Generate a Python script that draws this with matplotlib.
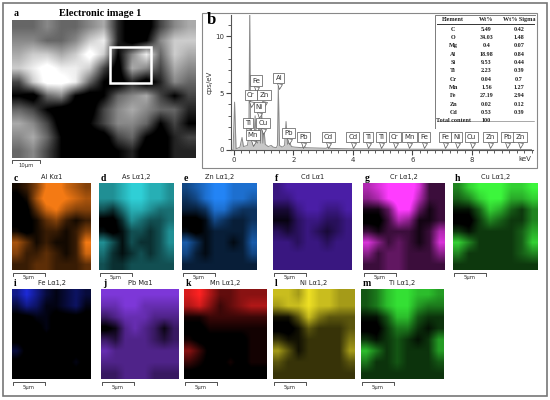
import numpy as np
import matplotlib
matplotlib.use('Agg')
import matplotlib.pyplot as plt
from matplotlib.patches import Rectangle
from matplotlib.colors import LinearSegmentedColormap

W, H = 550, 400

# EDS spectrum (keV, cps/eV)
spec_kev = [-0.1, -0.03, 0.02, 0.07, 0.2, 0.27, 0.32, 0.45, 0.5, 0.53, 0.555, 0.57, 0.6,
            0.64, 0.67, 0.71, 0.76, 0.8, 0.85, 0.89, 0.93, 0.97, 1.01, 1.05, 1.15, 1.25,
            1.32, 1.42, 1.46, 1.49, 1.53, 1.62, 1.7, 1.75, 1.8, 1.86, 1.93, 2.05, 2.3,
            2.35, 2.42, 2.7, 3.1, 3.15, 3.25, 3.6, 4.0, 4.5, 5.0, 6.0, 7.0, 8.0, 9.0, 10.0]
spec_cps = [0.0, 0.0, 4.2, 0.1, 0.25, 1.1, 0.3, 0.4, 1.2, 12.5, 1.6, 2.0, 0.9,
            1.3, 0.8, 3.0, 0.7, 0.6, 2.8, 0.6, 3.2, 0.6, 1.8, 0.5, 0.3, 0.4,
            0.25, 0.2, 0.4, 5.6, 0.4, 0.25, 0.4, 2.5, 0.5, 0.7, 0.3, 0.25, 0.2,
            0.35, 0.2, 0.18, 0.15, 0.25, 0.14, 0.12, 0.1, 0.1, 0.08, 0.07, 0.06, 0.05, 0.05, 0.04]

# peak labels: (element, keV, label height)
peak_labels = [('Fe', 0.74, 6.1), ('Cr', 0.56, 4.8), ('Zn', 1.01, 4.8), ('Ni', 0.85, 3.8),
               ('Ti', 0.46, 2.4), ('Cu', 0.97, 2.4), ('Mn', 0.64, 1.3), ('Al', 1.51, 6.3),
               ('Pb', 1.84, 1.5), ('Pb', 2.33, 1.15), ('Cd', 3.17, 1.15), ('Cd', 3.99, 1.15),
               ('Ti', 4.51, 1.15), ('Ti', 4.93, 1.15), ('Cr', 5.40, 1.15), ('Mn', 5.89, 1.15),
               ('Fe', 6.40, 1.15), ('Fe', 7.09, 1.15), ('Ni', 7.48, 1.15), ('Cu', 7.99, 1.15),
               ('Zn', 8.61, 1.15), ('Pb', 9.19, 1.15), ('Zn', 9.61, 1.15)]

# composition table
tab_element = ['C', 'O', 'Mg', 'Al', 'Si', 'Ti', 'Cr', 'Mn', 'Fe', 'Zn', 'Cd', 'Total content']
tab_wt = ['5.49', '34.03', '0.4', '18.98', '9.53', '2.23', '0.04', '1.56', '27.19', '0.02', '0.53', '100']
tab_sigma = ['0.42', '1.48', '0.07', '0.84', '0.44', '0.39', '0.7', '1.27', '2.94', '0.12', '0.39', '']

# electron image brightness (coarse, 10 rows x 13 cols)
sem_grid = [[4, 4, 5, 4, 4, 5, 6, 2, 0, 0, 3, 5, 6],
            [5, 5, 4, 4, 5, 7, 8, 2, 0, 1, 5, 7, 7],
            [6, 7, 7, 6, 7, 9, 7, 1, 5, 8, 4, 7, 6],
            [7, 8, 9, 8, 8, 7, 3, 0, 6, 5, 3, 6, 5],
            [3, 7, 9, 9, 8, 4, 1, 0, 2, 0, 2, 5, 4],
            [1, 0, 4, 5, 1, 0, 1, 4, 5, 6, 3, 1, 3],
            [4, 3, 1, 0, 0, 0, 3, 5, 6, 5, 4, 4, 2],
            [6, 5, 3, 0, 0, 1, 3, 5, 5, 4, 1, 3, 1],
            [5, 6, 4, 1, 0, 0, 0, 3, 4, 1, 0, 2, 3],
            [4, 5, 3, 1, 0, 0, 0, 1, 2, 0, 0, 2, 2]]

# elemental maps (coarse 8x8 intensity)
map_al = [[2, 3, 5, 8, 9, 7, 6, 5], [1, 2, 6, 9, 9, 8, 7, 6], [1, 1, 4, 7, 8, 6, 5, 5], [1, 1, 2, 4, 5, 3, 2, 3],
          [2, 1, 2, 3, 3, 2, 3, 5], [6, 4, 2, 3, 2, 2, 3, 8], [5, 3, 3, 4, 3, 2, 3, 7], [3, 3, 4, 4, 3, 3, 3, 4]]
map_as = [[6, 6, 7, 8, 8, 7, 7, 6], [6, 6, 7, 8, 8, 7, 7, 6], [4, 3, 5, 7, 7, 6, 5, 5], [1, 1, 3, 6, 5, 4, 4, 5],
          [2, 1, 2, 4, 4, 3, 4, 6], [6, 4, 2, 4, 3, 3, 4, 6], [5, 3, 2, 3, 4, 3, 4, 5], [4, 3, 3, 4, 4, 4, 4, 4]]
map_zn = [[5, 6, 7, 8, 8, 7, 7, 7], [4, 5, 7, 8, 8, 7, 7, 6], [3, 3, 4, 7, 7, 5, 4, 4], [1, 1, 2, 5, 4, 3, 3, 4],
          [2, 1, 2, 3, 3, 3, 3, 5], [6, 4, 2, 3, 3, 2, 3, 6], [5, 3, 2, 3, 3, 3, 3, 5], [3, 3, 3, 3, 3, 3, 3, 3]]
map_cd = [[5, 6, 6, 6, 6, 6, 6, 6], [5, 5, 6, 6, 6, 6, 6, 6], [3, 3, 5, 6, 6, 5, 5, 6], [2, 2, 4, 5, 5, 4, 4, 5],
          [4, 3, 4, 5, 4, 3, 4, 5], [5, 5, 4, 5, 5, 4, 5, 5], [5, 5, 5, 5, 5, 5, 5, 5], [5, 5, 5, 5, 5, 5, 5, 5]]
map_cr = [[6, 7, 8, 9, 9, 7, 3, 3], [5, 6, 8, 9, 9, 6, 3, 3], [2, 2, 4, 8, 8, 4, 2, 3], [1, 1, 3, 6, 5, 2, 2, 3],
          [3, 2, 3, 3, 3, 2, 3, 6], [7, 5, 3, 4, 3, 2, 3, 7], [5, 3, 4, 4, 3, 3, 3, 5], [3, 3, 4, 4, 3, 3, 3, 3]]
map_cu = [[5, 7, 8, 8, 8, 7, 7, 8], [4, 5, 7, 8, 8, 6, 6, 7], [2, 2, 4, 7, 6, 4, 3, 5], [1, 1, 3, 5, 4, 3, 3, 5],
          [3, 2, 3, 3, 3, 3, 4, 6], [7, 5, 3, 3, 3, 3, 4, 7], [5, 3, 3, 3, 3, 3, 4, 5], [3, 3, 3, 3, 3, 3, 3, 3]]
map_fe = [[5, 7, 5, 3, 2, 3, 4, 3], [3, 5, 4, 2, 2, 3, 4, 2], [1, 1, 2, 2, 1, 1, 1, 1], [1, 1, 1, 2, 1, 1, 1, 1],
          [1, 1, 1, 1, 1, 1, 1, 1], [3, 1, 1, 1, 1, 1, 1, 1], [1, 1, 1, 1, 1, 1, 2, 1], [1, 1, 1, 1, 1, 1, 1, 1]]
map_pb = [[7, 7, 7, 7, 7, 7, 7, 7], [6, 6, 7, 7, 6, 6, 6, 6], [4, 5, 6, 6, 6, 5, 5, 5], [1, 2, 5, 6, 5, 4, 2, 4],
          [4, 3, 5, 5, 5, 4, 3, 4], [6, 5, 5, 5, 5, 5, 5, 5], [5, 5, 5, 5, 5, 5, 5, 5], [4, 4, 5, 5, 5, 4, 4, 4]]
map_mn = [[7, 8, 6, 4, 4, 5, 5, 5], [6, 7, 5, 3, 4, 5, 6, 6], [2, 2, 3, 3, 3, 3, 3, 3], [1, 1, 2, 2, 2, 2, 2, 2],
          [2, 1, 1, 1, 1, 1, 2, 2], [5, 3, 1, 1, 1, 1, 2, 2], [3, 2, 1, 1, 2, 1, 2, 2], [1, 1, 1, 1, 1, 1, 1, 1]]
map_ni = [[7, 7, 6, 8, 7, 7, 6, 6], [6, 7, 7, 8, 7, 7, 6, 6], [2, 2, 4, 7, 5, 4, 4, 4], [1, 1, 2, 4, 3, 3, 3, 4],
          [3, 2, 2, 3, 3, 3, 3, 5], [6, 4, 2, 3, 3, 3, 3, 6], [4, 3, 3, 3, 3, 3, 3, 4], [3, 3, 3, 3, 3, 3, 3, 3]]
map_ti = [[4, 5, 7, 8, 8, 7, 7, 6], [4, 5, 7, 8, 8, 6, 5, 5], [2, 2, 4, 7, 7, 4, 3, 3], [1, 1, 3, 5, 5, 3, 2, 3],
          [3, 2, 3, 4, 3, 2, 3, 6], [7, 5, 3, 4, 3, 3, 3, 6], [5, 3, 3, 4, 3, 3, 3, 4], [3, 3, 3, 3, 3, 3, 3, 3]]

map_letters = ['c', 'd', 'e', 'f', 'g', 'h', 'i', 'j', 'k', 'l', 'm']
map_titles = ['Al Kα1', 'As Lα1,2', 'Zn Lα1,2', 'Cd Lα1', 'Cr Lα1,2', 'Cu Lα1,2',
              'Fe Lα1,2', 'Pb Mα1', 'Mn Lα1,2', 'Ni Lα1,2', 'Ti Lα1,2']
map_colors = ['#f47a14', '#2fcfd6', '#2384f5', '#6b2cf0', '#ff3cff', '#3cf63c',
              '#2232ff', '#9442ff', '#ff2222', '#eee024', '#34e034']
map_data = [map_al, map_as, map_zn, map_cd, map_cr, map_cu, map_fe, map_pb, map_mn, map_ni, map_ti]
# pixel boxes of the maps (x0, y0, x1, y1)
map_boxes = [(12, 183, 91, 270), (99, 183, 174, 270), (182, 183, 257, 270),
             (273, 183, 352, 270), (363, 183, 444, 270), (453, 183, 538, 270),
             (12, 289, 91, 379), (101, 289, 179, 379), (184, 289, 267, 379),
             (273, 289, 355, 379), (361, 289, 444, 379)]


def fbox(x0, y0, x1, y1):
    return [x0 / W, 1 - y1 / H, (x1 - x0) / W, (y1 - y0) / H]


def ftext(x, y, s, **kw):
    fig.text(x / W, 1 - y / H, s, **kw)


def fline(xs, ys, **kw):
    fig.add_artist(plt.Line2D([x / W for x in xs], [1 - y / H for y in ys], transform=fig.transFigure, **kw))


def scale_bar(x0, x1, y, label):
    fline([x0, x0, x1, x1], [y + 2.5, y, y, y + 2.5], color='#333', lw=0.6)
    ftext((x0 + x1) / 2, y + 2.5, label, ha='center', va='top', fontsize=3.8, color='#333')


fig = plt.figure(figsize=(5.5, 4), dpi=100)
fig.patch.set_facecolor('white')

# outer border and panel b frame
fig.add_artist(Rectangle((3 / W, 1 - 396 / H), 544 / W, 393 / H, transform=fig.transFigure,
                         fill=False, ec='#777', lw=1.2))
fig.add_artist(Rectangle((202 / W, 1 - 168 / H), 335 / W, 155 / H, transform=fig.transFigure,
                         fill=False, ec='#888', lw=0.8))

# panel a: electron image
ax_a = fig.add_axes(fbox(12, 20, 196, 158))
ax_a.imshow(np.array(sem_grid, dtype=float), cmap='gray', vmin=1, vmax=8.5,
            interpolation='bilinear', aspect='auto', extent=[0, 184, 138, 0])
ax_a.add_patch(Rectangle((98, 27), 41, 36, fill=False, ec='white', lw=1.8))
ax_a.set_xlim(0, 184)
ax_a.set_ylim(138, 0)
ax_a.axis('off')
ftext(14, 13, 'a', fontsize=7, fontweight='bold', family='Liberation Serif', va='center')
ftext(100, 13, 'Electronic image 1', fontsize=7.5, fontweight='bold', family='Liberation Serif',
      ha='center', va='center')
scale_bar(12, 40, 160, '10µm')

# panel b: spectrum
ax_b = fig.add_axes(fbox(231, 15, 533, 150))
ax_b.fill_between(spec_kev, spec_cps, 0, color='#c8c8c8', lw=0)
ax_b.plot(spec_kev, spec_cps, color='#8a8a8a', lw=0.7)
ax_b.set_xlim(-0.1, 10.05)
ax_b.set_ylim(0, 11.85)
for s in ['top', 'right']:
    ax_b.spines[s].set_visible(False)
for s in ['left', 'bottom']:
    ax_b.spines[s].set_color('#555')
    ax_b.spines[s].set_linewidth(0.8)
ax_b.set_xticks([0, 2, 4, 6, 8])
ax_b.set_xticks(np.arange(0, 10.01, 0.25), minor=True)
ax_b.set_yticks([0, 5, 10])
ax_b.set_yticks(range(0, 12), minor=True)
ax_b.tick_params(axis='both', which='major', labelsize=5, length=3.5, width=0.8, color='#444',
                 labelcolor='#333', pad=1.5)
ax_b.tick_params(axis='both', which='minor', length=2, width=0.6, color='#444')
ax_b.set_ylabel('cps/eV', fontsize=5, color='#333', labelpad=2)
ax_b.text(10.0, -0.55, 'keV', fontsize=5, color='#333', ha='right', va='top')
for el, kev, hy in peak_labels:
    ax_b.plot(kev, hy - 0.72, marker='v', ms=3.6, mfc='white', mec='#555', mew=0.5, zorder=4)
    ax_b.text(kev, hy, el, fontsize=5, color='#333', ha='center', va='center', zorder=5,
              bbox=dict(boxstyle='square,pad=0.3', fc='white', ec='#555', lw=0.5))
ftext(207, 20, 'b', fontsize=12, fontweight='bold', family='Liberation Serif', va='center')

# composition table
ax_t = fig.add_axes(fbox(435, 15, 536, 129))
ax_t.set_xlim(0, 1)
ax_t.set_ylim(13, 0)
ax_t.axis('off')
ax_t.add_patch(Rectangle((0, 0), 1, 13, fc='white', ec='#666', lw=0.6))
ax_t.plot([0.02, 0.98], [1.05, 1.05], color='#333', lw=0.7)
ax_t.plot([0.02, 0.98], [12.1, 12.1], color='#666', lw=0.4)
tfont = dict(fontsize=4.4, fontweight='bold', family='Liberation Serif', va='center', ha='center',
             color='#222')
ax_t.text(0.18, 0.5, 'Element', **tfont)
ax_t.text(0.51, 0.5, 'Wt%', **tfont)
ax_t.text(0.83, 0.5, 'Wt% Sigma', **tfont)
for i, (el, wt, sg) in enumerate(zip(tab_element, tab_wt, tab_sigma)):
    y = 1.6 + i * 0.95
    ax_t.text(0.18, y, el, **tfont)
    ax_t.text(0.51, y, wt, **tfont)
    ax_t.text(0.83, y, sg, **tfont)

# elemental maps
for letter, title, color, grid, (x0, y0, x1, y1) in zip(map_letters, map_titles, map_colors,
                                                         map_data, map_boxes):
    ax = fig.add_axes(fbox(x0, y0, x1, y1))
    cmap = LinearSegmentedColormap.from_list(letter, ['black', color])
    ax.imshow(np.array(grid, dtype=float), cmap=cmap, vmin=1.5, vmax=8,
              interpolation='bilinear', aspect='auto')
    ax.axis('off')
    ftext(x0 + 2, y0 - 5, letter, fontsize=7, fontweight='bold', family='Liberation Serif',
          va='center')
    ftext((x0 + x1) / 2, y0 - 6, title, fontsize=4.8, color='#222', ha='center', va='center')
    scale_bar(x0 + 1, x0 + 33, y1 + 3, '5µm')

fig.savefig('out.png', dpi=100)
